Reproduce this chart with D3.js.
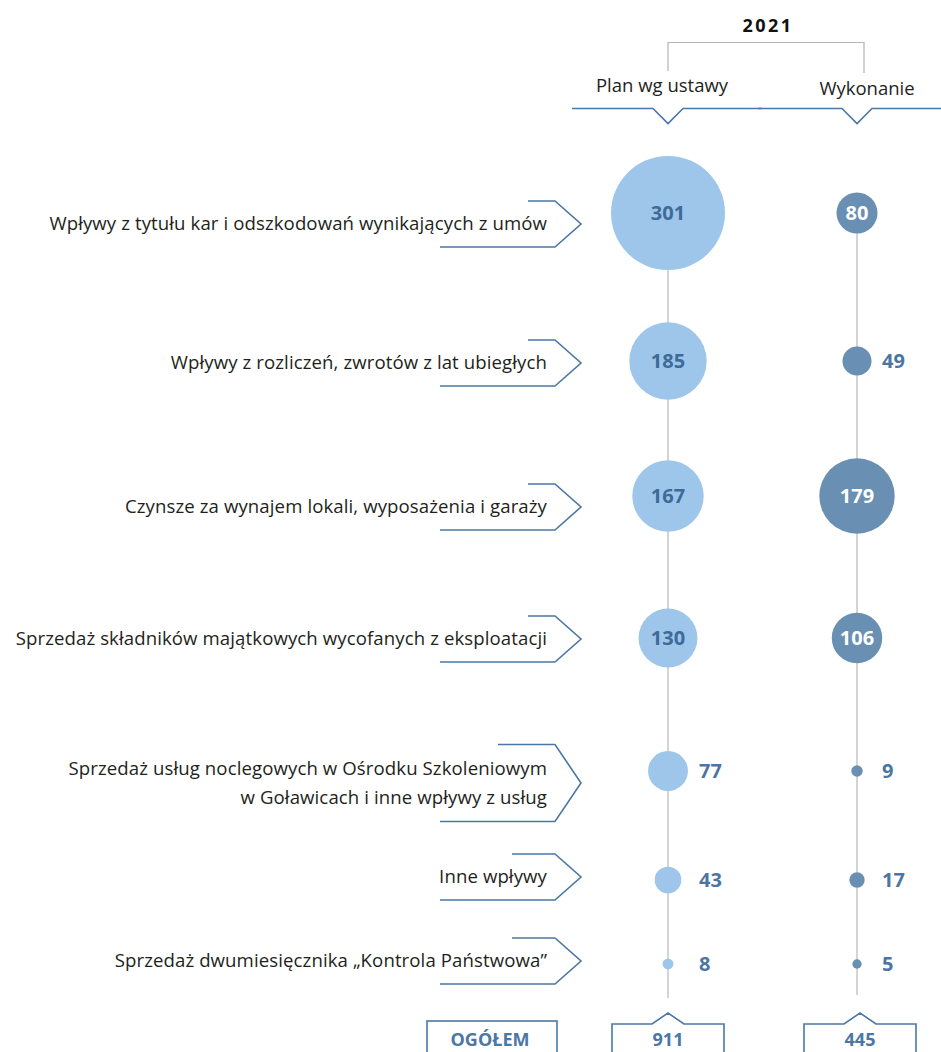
<!DOCTYPE html>
<html><head><meta charset="utf-8">
<script src="https://cdn.jsdelivr.net/npm/d3@7"></script>
<style>
html,body{margin:0;padding:0;background:#fff;}
svg{display:block;font-family:"Open Sans","Noto Sans",sans-serif;}
</style></head>
<body><svg id="c" width="941" height="1052"></svg>
<script>
// ---------- DATA ----------
const categories = [
  ["Wpływy z tytułu kar i odszkodowań wynikających z umów"],
  ["Wpływy z rozliczeń, zwrotów z lat ubiegłych"],
  ["Czynsze za wynajem lokali, wyposażenia i garaży"],
  ["Sprzedaż składników majątkowych wycofanych z eksploatacji"],
  ["Sprzedaż usług noclegowych w Ośrodku Szkoleniowym", "w Goławicach i inne wpływy z usług"],
  ["Inne wpływy"],
  ["Sprzedaż dwumiesięcznika „Kontrola Państwowa”"]
];
const planValues = [301, 185, 167, 130, 77, 43, 8];
const execValues = [80, 49, 179, 106, 9, 17, 5];
const seriesNames = ["Plan wg ustawy", "Wykonanie"];
const totals = [911, 445];
const yearLabel = "2021";
const totalLabel = "OGÓŁEM";

// ---------- LAYOUT ----------
const W = 941, H = 1052;
const rowCenters = [213, 361, 496, 638, 771, 880, 964];
const labelCenters = [224, 363, 507, 639, 783, 877, 961];
const C = {
  light: "#9dc6ea", dark: "#6990b2", blue: "#4a77a5", valPlan: "#3e6b97",
  valOut: "#4b76a2", grid: "#c6c6c6", text: "#231f20"
};

const svg = d3.select("#c");
const idx = d3.range(categories.length);
const x = d3.scalePoint().domain(["plan", "exec"]).range([668, 857]);
const y = d3.scaleOrdinal().domain(idx).range(rowCenters);
const yLab = d3.scaleOrdinal().domain(idx).range(labelCenters);
const r = d3.scalePow().exponent(0.85).domain([0, 301]).range([3, 57]);

// ---------- HEADER ----------
svg.append("text").attr("x", 768).attr("y", 32).attr("text-anchor", "middle")
  .attr("font-size", 18).attr("font-weight", 700).attr("letter-spacing", 2.5)
  .attr("fill", "#111").text(yearLabel);
svg.append("path")
  .attr("d", `M${x("plan")},71V42.5H${x("exec") + 7}V73`)
  .attr("fill", "none").attr("stroke", "#b5b5b5").attr("stroke-width", 1.2);
svg.append("text").attr("x", 662).attr("y", 92).attr("text-anchor", "middle")
  .attr("font-size", 18.5).attr("fill", C.text).text(seriesNames[0]);
svg.append("text").attr("x", 867).attr("y", 95).attr("text-anchor", "middle")
  .attr("font-size", 18.5).attr("fill", C.text).text(seriesNames[1]);
const hy = 108.5, hd = 15, hw = 15;
svg.append("path")
  .attr("d", `M572,${hy}H${x("plan") - hw}L${x("plan")},${hy + hd}L${x("plan") + hw},${hy}H762`)
  .attr("fill", "none").attr("stroke", C.blue).attr("stroke-width", 1.6);
svg.append("path")
  .attr("d", `M758,${hy}H${x("exec") - hw}L${x("exec")},${hy + hd}L${x("exec") + hw},${hy}H941`)
  .attr("fill", "none").attr("stroke", C.blue).attr("stroke-width", 1.6);

// ---------- VERTICAL LINES ----------
svg.append("line").attr("x1", x("plan")).attr("x2", x("plan"))
  .attr("y1", y(0)).attr("y2", 998).attr("stroke", C.grid).attr("stroke-width", 1.5);
svg.append("line").attr("x1", x("exec")).attr("x2", x("exec"))
  .attr("y1", y(0)).attr("y2", 995).attr("stroke", C.grid).attr("stroke-width", 1.5);

// ---------- CATEGORY LABELS ----------
const lineH = 29, textRight = 547;
const labG = svg.append("g");
idx.forEach(i => {
  const lines = categories[i];
  const yc = yLab(i);
  const half = 23 + (lines.length - 1) * 15.5;
  const topStart = lines.length > 1 ? 498 : (i >= 5 ? 512 : 528);
  labG.append("path")
    .attr("d", `M${topStart},${yc - half}H555L581,${yc}L555,${yc + half}H440`)
    .attr("fill", "none").attr("stroke", C.blue).attr("stroke-width", 1.6);
  const t = labG.append("text").attr("text-anchor", "end").attr("font-size", 18.6)
    .attr("letter-spacing", 0.1).attr("fill", C.text);
  lines.forEach((s, k) => {
    t.append("tspan").attr("x", textRight)
      .attr("y", yc + 6 + (k - (lines.length - 1) / 2) * lineH).text(s);
  });
});

// ---------- BUBBLES ----------
const series = [
  { key: "plan", values: planValues, fill: C.light, inText: C.valPlan, outDx: 31 },
  { key: "exec", values: execValues, fill: C.dark, inText: "#ffffff", outDx: 25 }
];
series.forEach(s => {
  const g = svg.append("g");
  g.selectAll("circle").data(s.values).join("circle")
    .attr("cx", x(s.key)).attr("cy", (d, i) => y(i)).attr("r", d => r(d))
    .attr("fill", s.fill);
  g.selectAll("text").data(s.values).join("text")
    .attr("x", d => d >= 80 ? x(s.key) : x(s.key) + s.outDx)
    .attr("y", (d, i) => y(i) + 7)
    .attr("text-anchor", d => d >= 80 ? "middle" : "start")
    .attr("font-size", 20).attr("font-weight", 700)
    .attr("fill", d => d >= 80 ? s.inText : C.valOut)
    .text(d => d);
});

// ---------- TOTALS ----------
const bTop = 1024, bBot = 1070;
svg.append("rect").attr("x", 427).attr("y", 1021).attr("width", 130).attr("height", 60)
  .attr("fill", "none").attr("stroke", C.blue).attr("stroke-width", 1.6);
svg.append("text").attr("x", 490).attr("y", 1046).attr("text-anchor", "middle")
  .attr("font-size", 18).attr("font-weight", 700).attr("fill", C.blue).text(totalLabel);
[["plan", totals[0], 0], ["exec", totals[1], 3]].forEach(([k, v, dx]) => {
  const cx = x(k) + dx, hwid = 56, nw = 16;
  svg.append("path")
    .attr("d", `M${cx - hwid},${bBot}V${bTop}H${cx - nw}L${cx},${bTop - 11}L${cx + nw},${bTop}H${cx + hwid}V${bBot}`)
    .attr("fill", "none").attr("stroke", C.blue).attr("stroke-width", 1.6);
  svg.append("text").attr("x", cx).attr("y", 1046).attr("text-anchor", "middle")
    .attr("font-size", 18).attr("font-weight", 700).attr("fill", C.blue).text(v);
});
</script></body></html>
